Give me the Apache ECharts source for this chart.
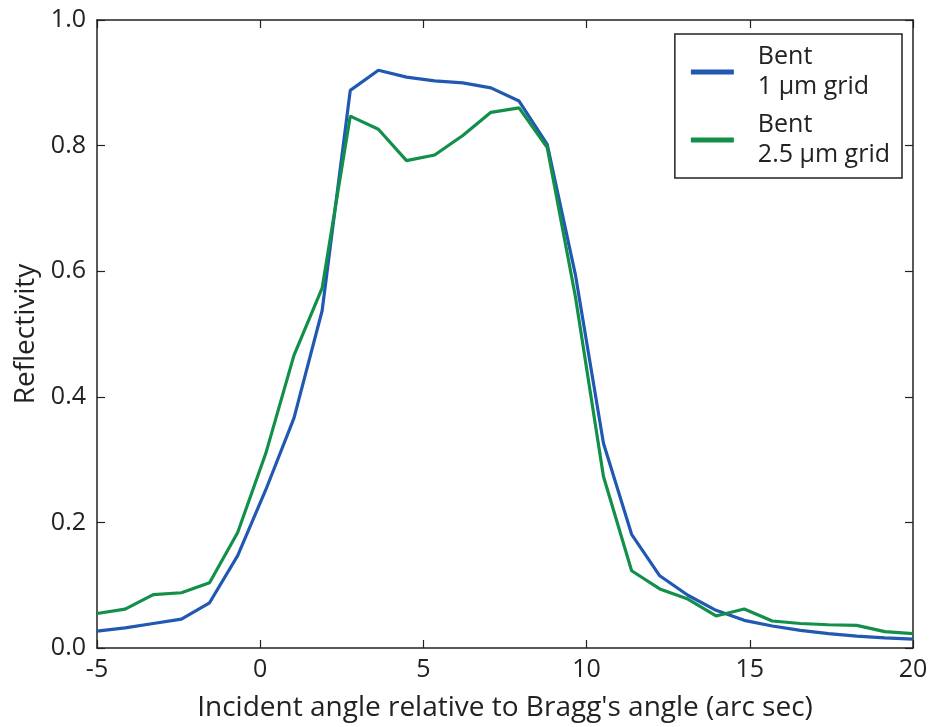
<!DOCTYPE html>
<html>
<head>
<meta charset="utf-8">
<script src="https://cdn.jsdelivr.net/npm/echarts@6/dist/echarts.min.js"></script>
<style>
  html, body { margin: 0; padding: 0; background: #fff; }
  #chart { width: 931px; height: 727px; }
</style>
</head>
<body>
<div id="chart"></div>
<script>
// Incident angle samples (arc sec relative to Bragg's angle)
const angles = [-5, -4.138, -3.276, -2.414, -1.552, -0.690, 0.172, 1.034, 1.897, 2.759,
  3.621, 4.483, 5.345, 6.207, 7.069, 7.931, 8.793, 9.655, 10.517, 11.379,
  12.241, 13.103, 13.966, 14.828, 15.690, 16.552, 17.414, 18.276, 19.138, 20];

// Reflectivity, bent crystal, 1 µm grid
const bent1um = [0.027, 0.032, 0.039, 0.046, 0.072, 0.147, 0.252, 0.366, 0.537, 0.888,
  0.920, 0.909, 0.903, 0.900, 0.892, 0.871, 0.802, 0.595, 0.326, 0.181,
  0.115, 0.084, 0.060, 0.044, 0.035, 0.028, 0.023, 0.019, 0.016, 0.014];

// Reflectivity, bent crystal, 2.5 µm grid
const bent25um = [0.055, 0.062, 0.085, 0.088, 0.104, 0.184, 0.310, 0.466, 0.573, 0.847,
  0.826, 0.776, 0.785, 0.816, 0.853, 0.860, 0.797, 0.560, 0.273, 0.123,
  0.094, 0.078, 0.051, 0.062, 0.043, 0.039, 0.037, 0.036, 0.026, 0.023];

const seriesNames = ['Bent\n1 µm grid', 'Bent\n2.5 µm grid'];
const xTicks = { min: -5, max: 20, step: 5 };
const yTicks = { min: 0, max: 1, step: 0.2 };

const FONT = "'Open Sans', 'DejaVu Sans', sans-serif";
const INK = '#222';
const BLUE = '#2159b2';
const GREEN = '#12904a';

const pairs = (xs, ys) => xs.map((x, i) => [x, ys[i]]);

const tickStyle = { show: true, inside: true, length: 8, lineStyle: { color: INK, width: 1.2 } };
const frameLine = { show: true, onZero: false, lineStyle: { color: INK, width: 1.5 } };

const chart = echarts.init(document.getElementById('chart'), null, { renderer: 'canvas' });
chart.setOption({
  animation: false,
  backgroundColor: '#fff',
  textStyle: { fontFamily: FONT, color: INK },
  grid: {
    left: 97, right: 18, top: 20, bottom: 63,
    show: false, containLabel: false
  },
  legend: {
    orient: 'vertical',
    right: 29, top: 34,
    padding: [8, 12, 8, 16],
    itemGap: 8,
    itemWidth: 43, itemHeight: 5,
    icon: 'rect',
    borderColor: INK, borderWidth: 1.5, borderRadius: 0,
    backgroundColor: '#fff',
    textStyle: { fontFamily: FONT, fontSize: 25, color: INK, lineHeight: 30, padding: [0, 0, 0, 19] },
    data: seriesNames
  },
  xAxis: [
    {
      type: 'value', position: 'bottom',
      min: xTicks.min, max: xTicks.max, interval: xTicks.step,
      name: "Incident angle relative to Bragg's angle (arc sec)",
      nameLocation: 'middle', nameGap: 46,
      nameTextStyle: { fontFamily: FONT, fontSize: 28, color: INK },
      axisLine: frameLine,
      axisTick: tickStyle,
      axisLabel: { fontFamily: FONT, fontSize: 25, color: INK, margin: 9 },
      splitLine: { show: false }
    },
    {
      type: 'value', position: 'top',
      min: xTicks.min, max: xTicks.max, interval: xTicks.step,
      axisLine: frameLine,
      axisTick: tickStyle,
      axisLabel: { show: false },
      splitLine: { show: false }
    }
  ],
  yAxis: [
    {
      type: 'value', position: 'left',
      min: yTicks.min, max: yTicks.max, interval: yTicks.step,
      name: 'Reflectivity',
      nameLocation: 'middle', nameGap: 55, nameRotate: 90,
      nameTextStyle: { fontFamily: FONT, fontSize: 28, color: INK },
      axisLine: frameLine,
      axisTick: tickStyle,
      axisLabel: { fontFamily: FONT, fontSize: 25, color: INK, margin: 11,
        formatter: v => v.toFixed(1) },
      splitLine: { show: false }
    },
    {
      type: 'value', position: 'right',
      min: yTicks.min, max: yTicks.max, interval: yTicks.step,
      axisLine: frameLine,
      axisTick: tickStyle,
      axisLabel: { show: false },
      splitLine: { show: false }
    }
  ],
  series: [
    {
      name: seriesNames[0], type: 'line',
      xAxisIndex: 0, yAxisIndex: 0,
      data: pairs(angles, bent1um),
      showSymbol: false, symbol: 'none',
      lineStyle: { color: BLUE, width: 3.2 },
      itemStyle: { color: BLUE },
      z: 2
    },
    {
      name: seriesNames[1], type: 'line',
      xAxisIndex: 0, yAxisIndex: 0,
      data: pairs(angles, bent25um),
      showSymbol: false, symbol: 'none',
      lineStyle: { color: GREEN, width: 3.2 },
      itemStyle: { color: GREEN },
      z: 3
    }
  ]
});
</script>
</body>
</html>
